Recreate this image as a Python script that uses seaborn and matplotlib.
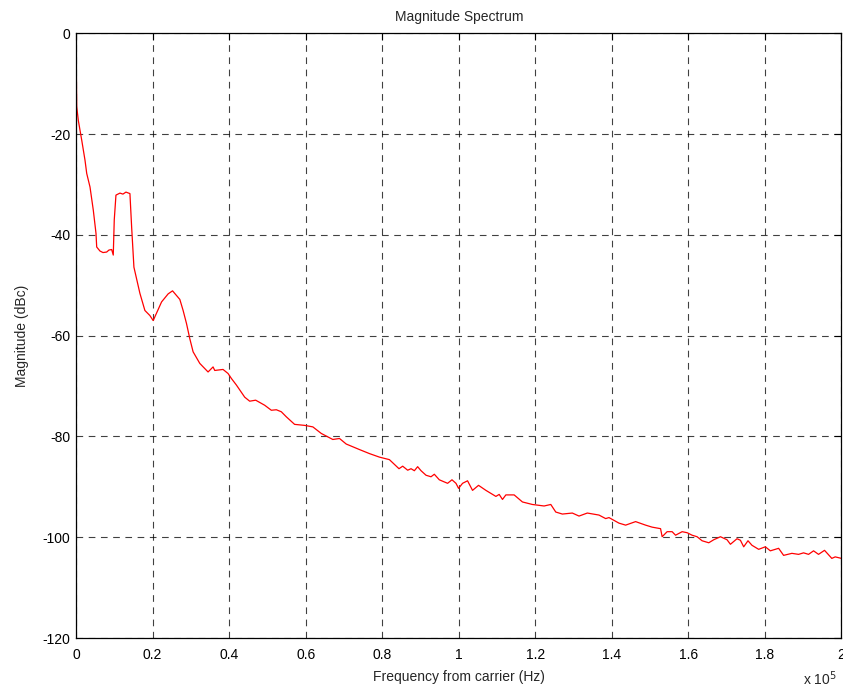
import matplotlib
matplotlib.use("Agg")
import matplotlib.pyplot as plt
import seaborn as sns
import pandas as pd
from matplotlib.ticker import FuncFormatter

# Frequency offset from carrier (Hz) and magnitude (dBc)
freq_hz = [
    0, 60, 120, 183, 600, 1486, 2347, 2790, 3651, 4511, 5215, 5398, 6258, 7040,
    8005, 8605, 9309, 9726, 9987, 10430, 11473, 12256, 13038, 14081, 14524,
    15124, 16689, 17993, 19296, 20157, 22347, 24068, 25216, 27119, 27980,
    28866, 29727, 30587, 32334, 34498, 35802, 36246, 38410, 39714, 40601,
    41904, 44068, 45372, 46937, 49284, 51031, 52335, 53638, 54942, 57106,
    59714, 61878, 64069, 67094, 68841, 70588, 74056, 76663, 79271, 81879,
    84382, 85349, 86651, 87537, 88398, 89258, 90145, 91449, 92752, 93613,
    94917, 97081, 98228, 99271, 99949, 100993, 102296, 103600, 105165,
    107094, 109702, 110562, 111423, 112309, 114474, 116638, 119246, 122296,
    124044, 125347, 127068, 129676, 131423, 133587, 136638, 138386, 139246,
    141853, 143601, 146208, 148816, 150537, 152727, 153145, 154448, 155752,
    156639, 158360, 159664, 160967, 162271, 163575, 165322, 166626, 168373,
    170094, 170981, 172702, 173589, 174449, 175570, 176613, 178360, 180108,
    181411, 183575, 184879, 187043, 188790, 190094, 191398, 192702, 194005,
    195570, 197474, 198360, 200000,
]
magnitude_dbc = [
    0.0, -6.0, -11.0, -14.6, -17.3, -21.2, -25.2, -27.8, -30.5, -35.1, -39.7,
    -42.4, -43.2, -43.5, -43.4, -43.0, -42.9, -44.0, -37.0, -32.1, -31.7,
    -31.9, -31.5, -31.8, -38.4, -46.4, -51.6, -55.0, -56.0, -57.0, -53.3,
    -51.7, -51.1, -52.8, -55.0, -57.6, -60.6, -63.2, -65.5, -67.2, -66.2,
    -66.9, -66.7, -67.5, -68.5, -69.8, -72.2, -73.0, -72.8, -73.8, -74.8,
    -74.7, -75.1, -76.1, -77.6, -77.8, -78.1, -79.4, -80.6, -80.4, -81.5,
    -82.6, -83.4, -84.1, -84.6, -86.4, -85.9, -86.7, -86.4, -86.8, -86.0,
    -86.8, -87.7, -88.0, -87.5, -88.6, -89.3, -88.6, -89.3, -90.3, -89.3,
    -88.8, -90.7, -89.7, -90.7, -91.9, -91.5, -92.5, -91.6, -91.6, -93.0,
    -93.5, -93.8, -93.5, -95.0, -95.4, -95.2, -95.8, -95.2, -95.6, -96.3,
    -96.1, -97.2, -97.6, -96.9, -97.6, -98.0, -98.3, -99.9, -98.9, -98.9,
    -99.6, -98.9, -99.1, -99.6, -99.9, -100.7, -101.1, -100.5, -99.9,
    -100.5, -101.4, -100.3, -100.6, -101.9, -100.7, -101.6, -102.4, -101.9,
    -102.7, -102.2, -103.6, -103.2, -103.4, -103.1, -103.4, -102.7, -103.4,
    -102.6, -104.2, -103.9, -104.2,
]
x_ticks = [0, 20000, 40000, 60000, 80000, 100000, 120000, 140000, 160000, 180000, 200000]
y_ticks = [0, -20, -40, -60, -80, -100, -120]

df = pd.DataFrame({"freq": freq_hz, "mag": magnitude_dbc})

sns.set_style("white")
plt.rcParams["font.family"] = ["Liberation Sans", "DejaVu Sans"]
plt.rcParams["font.size"] = 10
plt.rcParams["axes.unicode_minus"] = False

fig = plt.figure(figsize=(8.43, 6.91), dpi=100)
ax = fig.add_axes([0.0902, 0.0767, 0.908, 0.875])

sns.lineplot(data=df, x="freq", y="mag", color="#ff0000", linewidth=0.9,
             sort=False, ax=ax)

ax.set_xlim(0, 200000)
ax.set_ylim(-120, 0)
ax.set_xticks(x_ticks)
ax.set_yticks(y_ticks)
ax.xaxis.set_major_formatter(FuncFormatter(lambda v, p: f"{v / 1e5:g}"))

ax.grid(True, color="black", linestyle=(0, (6, 5)), linewidth=0.8, alpha=0.75)
ax.tick_params(direction="in", length=5, width=0.8, colors="black",
               labelsize=10, top=True, right=True)
ax.tick_params(axis="x", pad=7)
ax.tick_params(axis="y", pad=4)
for s in ax.spines.values():
    s.set_color("black")
    s.set_linewidth(0.9)

ax.set_title("Magnitude Spectrum", fontsize=10, pad=9)
ax.set_xlabel("Frequency from carrier (Hz)", fontsize=10, labelpad=6)
ax.set_ylabel("Magnitude (dBc)", fontsize=10, labelpad=10)
fig.text(0.953, 0.005, r"x 10$^5$", fontsize=10, ha="left", va="bottom")

fig.savefig("out.png", dpi=100)
